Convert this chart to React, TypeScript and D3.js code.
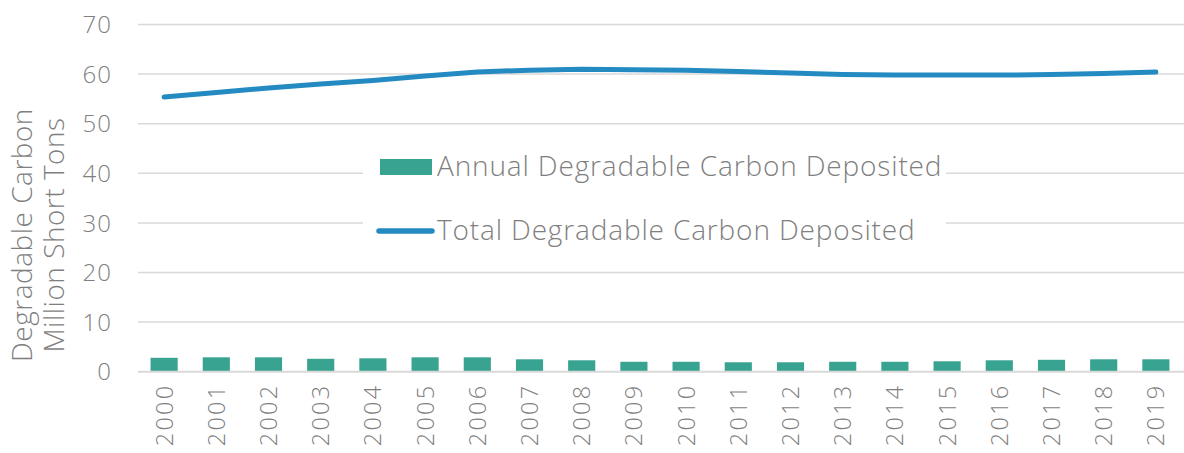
import * as React from "react";
import * as d3 from "d3";

const years = [
  "2000", "2001", "2002", "2003", "2004", "2005", "2006", "2007", "2008", "2009",
  "2010", "2011", "2012", "2013", "2014", "2015", "2016", "2017", "2018", "2019"
];
// annual deposits (bars)
const annual = [2.8, 2.9, 2.9, 2.6, 2.7, 2.9, 2.9, 2.5, 2.3, 2.0, 2.0, 1.9, 1.9, 2.0, 2.0, 2.1, 2.3, 2.4, 2.5, 2.5];
// total deposits (line)
const total = [55.4, 56.3, 57.2, 58.0, 58.7, 59.6, 60.4, 60.8, 61.0, 60.9, 60.8, 60.5, 60.2, 59.9, 59.8, 59.8, 59.8, 59.9, 60.1, 60.4];
const yTicks = [0, 10, 20, 30, 40, 50, 60, 70];
const legendLabels = ["Annual Degradable Carbon Deposited", "Total Degradable Carbon Deposited"];
const axisTitle = ["Degradable Carbon", "Million Short Tons"];

const width = 1184;
const height = 453;
const left = 138;
const right = 1182;
const top = 24.5;
const bottom = 371.7;

const barColor = "#38a391";
const lineColor = "#238bc1";
const textColor = "#7f7f7f";
const gridColor = "#d9d9d9";
const font = "'Open Sans', Lato, sans-serif";

export default function App() {
  const x = d3.scaleBand().domain(years).range([left, right]).paddingInner(0.48).paddingOuter(0.24);
  const y = d3.scaleLinear().domain([0, 70]).range([bottom, top]);
  const cx = (d: string) => (x(d) as number) + x.bandwidth() / 2;

  const line = d3
    .line<number>()
    .x((_, i) => cx(years[i]))
    .y(d => y(d));

  return (
    <svg
      width={width}
      height={height}
      style={{ position: "absolute", left: 0, top: 0, background: "#fff" }}
      fontFamily={font}
      fontWeight={300}
    >
      {/* grid */}
      {yTicks.filter(t => t > 0).map(t => (
        <line key={t} x1={left} x2={width} y1={y(t)} y2={y(t)} stroke={gridColor} strokeWidth={1.5} />
      ))}

      {/* bars */}
      {annual.map((v, i) => (
        <rect
          key={years[i]}
          x={x(years[i])}
          y={y(v)}
          width={x.bandwidth()}
          height={y(0) - y(v)}
          fill={barColor}
        />
      ))}
      <line x1={left} x2={width} y1={y(0)} y2={y(0)} stroke={gridColor} strokeWidth={2} />

      {/* total line */}
      <path d={line(total) as string} fill="none" stroke={lineColor} strokeWidth={5} strokeLinecap="round" strokeLinejoin="round" />

      {/* y tick labels */}
      {yTicks.map(t => (
        <text key={t} x={112} y={y(t)} dy="0.36em" textAnchor="end" fontSize={24} letterSpacing={1} fill={textColor}>
          {t}
        </text>
      ))}

      {/* x tick labels */}
      {years.map(yr => (
        <text
          key={yr}
          transform={`translate(${cx(yr) + 8.5},${bottom + 12}) rotate(-90)`}
          textAnchor="end"
          fontSize={23.5}
          letterSpacing={2.2}
          fill={textColor}
        >
          {yr}
        </text>
      ))}

      {/* axis title */}
      <text transform="translate(32,235) rotate(-90)" textAnchor="middle" fontSize={28} letterSpacing={0.5} fill={textColor}>
        <tspan x={0} dy={0}>{axisTitle[0]}</tspan>
        <tspan x={0} dy={32}>{axisTitle[1]}</tspan>
      </text>

      {/* legend */}
      <g>
        <rect x={363} y={148} width={583} height={100} fill="#fff" />
        <rect x={380} y={159} width={52} height={16} fill={barColor} />
        <text x={437} y={176} fontSize={28} letterSpacing={0.85} fill={textColor}>{legendLabels[0]}</text>
        <line x1={379} x2={432} y1={231} y2={231} stroke={lineColor} strokeWidth={5.5} strokeLinecap="round" />
        <text x={437} y={240} fontSize={28} letterSpacing={0.85} fill={textColor}>{legendLabels[1]}</text>
      </g>
    </svg>
  );
}
